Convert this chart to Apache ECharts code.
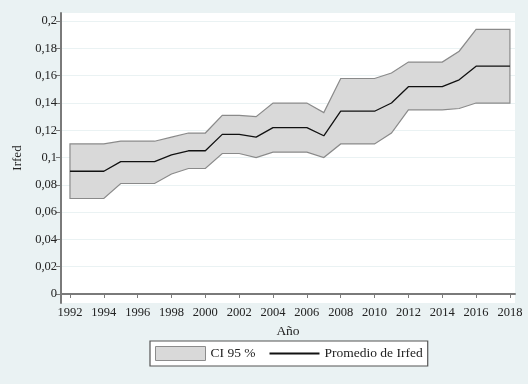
<!DOCTYPE html>
<html>
<head>
<meta charset="utf-8">
<script src="https://cdn.jsdelivr.net/npm/echarts@6/dist/echarts.min.js"></script>
<style>
  html, body { margin: 0; padding: 0; background: #eaf2f3; }
  #chart { width: 528px; height: 384px; }
</style>
</head>
<body>
<div id="chart"></div>
<script>
// values
const years = [1992, 1993, 1994, 1995, 1996, 1997, 1998, 1999, 2000, 2001, 2002, 2003, 2004,
  2005, 2006, 2007, 2008, 2009, 2010, 2011, 2012, 2013, 2014, 2015, 2016, 2017, 2018]
const meanIrfed = [0.09, 0.09, 0.09, 0.097, 0.097, 0.097, 0.102, 0.105, 0.105, 0.117, 0.117, 0.115, 0.122,
  0.122, 0.122, 0.116, 0.134, 0.134, 0.134, 0.14, 0.152, 0.152, 0.152, 0.157, 0.167, 0.167, 0.167]
const ciUpper = [0.11, 0.11, 0.11, 0.112, 0.112, 0.112, 0.115, 0.118, 0.118, 0.131, 0.131, 0.13, 0.14,
  0.14, 0.14, 0.133, 0.158, 0.158, 0.158, 0.162, 0.17, 0.17, 0.17, 0.178, 0.194, 0.194, 0.194]
const ciLower = [0.07, 0.07, 0.07, 0.081, 0.081, 0.081, 0.088, 0.092, 0.092, 0.103, 0.103, 0.1, 0.104,
  0.104, 0.104, 0.1, 0.11, 0.11, 0.11, 0.118, 0.135, 0.135, 0.135, 0.136, 0.14, 0.14, 0.14]
const xTicks = [1992, 1994, 1996, 1998, 2000, 2002, 2004, 2006, 2008, 2010, 2012, 2014, 2016, 2018]
const yTicks = [0, 0.02, 0.04, 0.06, 0.08, 0.1, 0.12, 0.14, 0.16, 0.18, 0.2]

const serif = '"Liberation Serif", "DejaVu Serif", serif'
const axisGray = '#7a7a7a'

const chart = echarts.init(document.getElementById('chart'))

const fmtY = v => String(+v.toFixed(2)).replace('.', ',')

chart.setOption({
  backgroundColor: '#eaf2f3',
  animation: false,
  textStyle: { fontFamily: serif, color: '#222' },
  grid: {
    left: 61, right: 13, top: 13, bottom: 81,
    show: true, backgroundColor: '#ffffff', borderWidth: 0
  },
  xAxis: {
    type: 'value',
    min: 1991.47,
    max: 2018.3,
    name: 'Año',
    nameLocation: 'middle',
    nameGap: 21,
    nameTextStyle: { fontFamily: serif, fontSize: 13.5, color: '#222' },
    axisLine: { show: true, lineStyle: { color: axisGray, width: 2 } },
    axisTick: { show: true, length: 4, customValues: xTicks, lineStyle: { color: axisGray, width: 1 } },
    axisLabel: { customValues: xTicks, formatter: v => String(v), fontFamily: serif, fontSize: 12.5, color: '#222', margin: 3 },
    splitLine: { show: false }
  },
  yAxis: {
    type: 'value',
    min: -0.0066,
    max: 0.206,
    name: 'Irfed',
    nameLocation: 'middle',
    nameGap: 36,
    nameTextStyle: { fontFamily: serif, fontSize: 13, color: '#222' },
    axisLine: { show: true, lineStyle: { color: axisGray, width: 2 } },
    axisTick: { show: true, length: 5, customValues: yTicks, lineStyle: { color: axisGray, width: 1 } },
    axisLabel: { customValues: yTicks, formatter: fmtY, fontFamily: serif, fontSize: 12.5, color: '#222', margin: 4 },
    splitLine: { show: true, customValues: yTicks, lineStyle: { color: '#eaf2f3', width: 1 } }
  },
  legend: {
    left: 150,
    top: 341,
    orient: 'horizontal',
    padding: [5, 5],
    itemGap: 13,
    itemWidth: 50,
    itemHeight: 14,
    backgroundColor: '#ffffff',
    borderColor: '#555555',
    borderWidth: 1.2,
    borderRadius: 0,
    textStyle: { fontFamily: serif, fontSize: 13.5, color: '#222' },
    data: [
      { name: 'CI 95 %', icon: 'rect', itemStyle: { color: '#d9d9d9', borderColor: '#8c8c8c', borderWidth: 1 } },
      { name: 'Promedio de Irfed' }
    ]
  },
  series: [
    {
      name: 'CI 95 %',
      type: 'custom',
      coordinateSystem: 'cartesian2d',
      itemStyle: { color: '#d9d9d9', borderColor: '#8c8c8c', borderWidth: 1 },
      data: years.map((y, i) => [y, ciLower[i], ciUpper[i]]),
      encode: { x: 0, y: [1, 2] },
      renderItem: (params, api) => {
        if (params.dataIndex !== 0) return null
        const top = years.map((y, i) => api.coord([y, ciUpper[i]]))
        const bottom = years.map((y, i) => api.coord([y, ciLower[i]])).reverse()
        return {
          type: 'polygon',
          shape: { points: top.concat(bottom) },
          style: { fill: '#d9d9d9', stroke: '#8a8a8a', lineWidth: 1.2 }
        }
      },
      z: 2
    },
    {
      name: 'Promedio de Irfed',
      type: 'line',
      data: years.map((y, i) => [y, meanIrfed[i]]),
      symbol: 'none',
      lineStyle: { color: '#111', width: 1.3 },
      itemStyle: { color: 'rgba(0,0,0,0)' },
      z: 3
    }
  ]
})
</script>
</body>
</html>
